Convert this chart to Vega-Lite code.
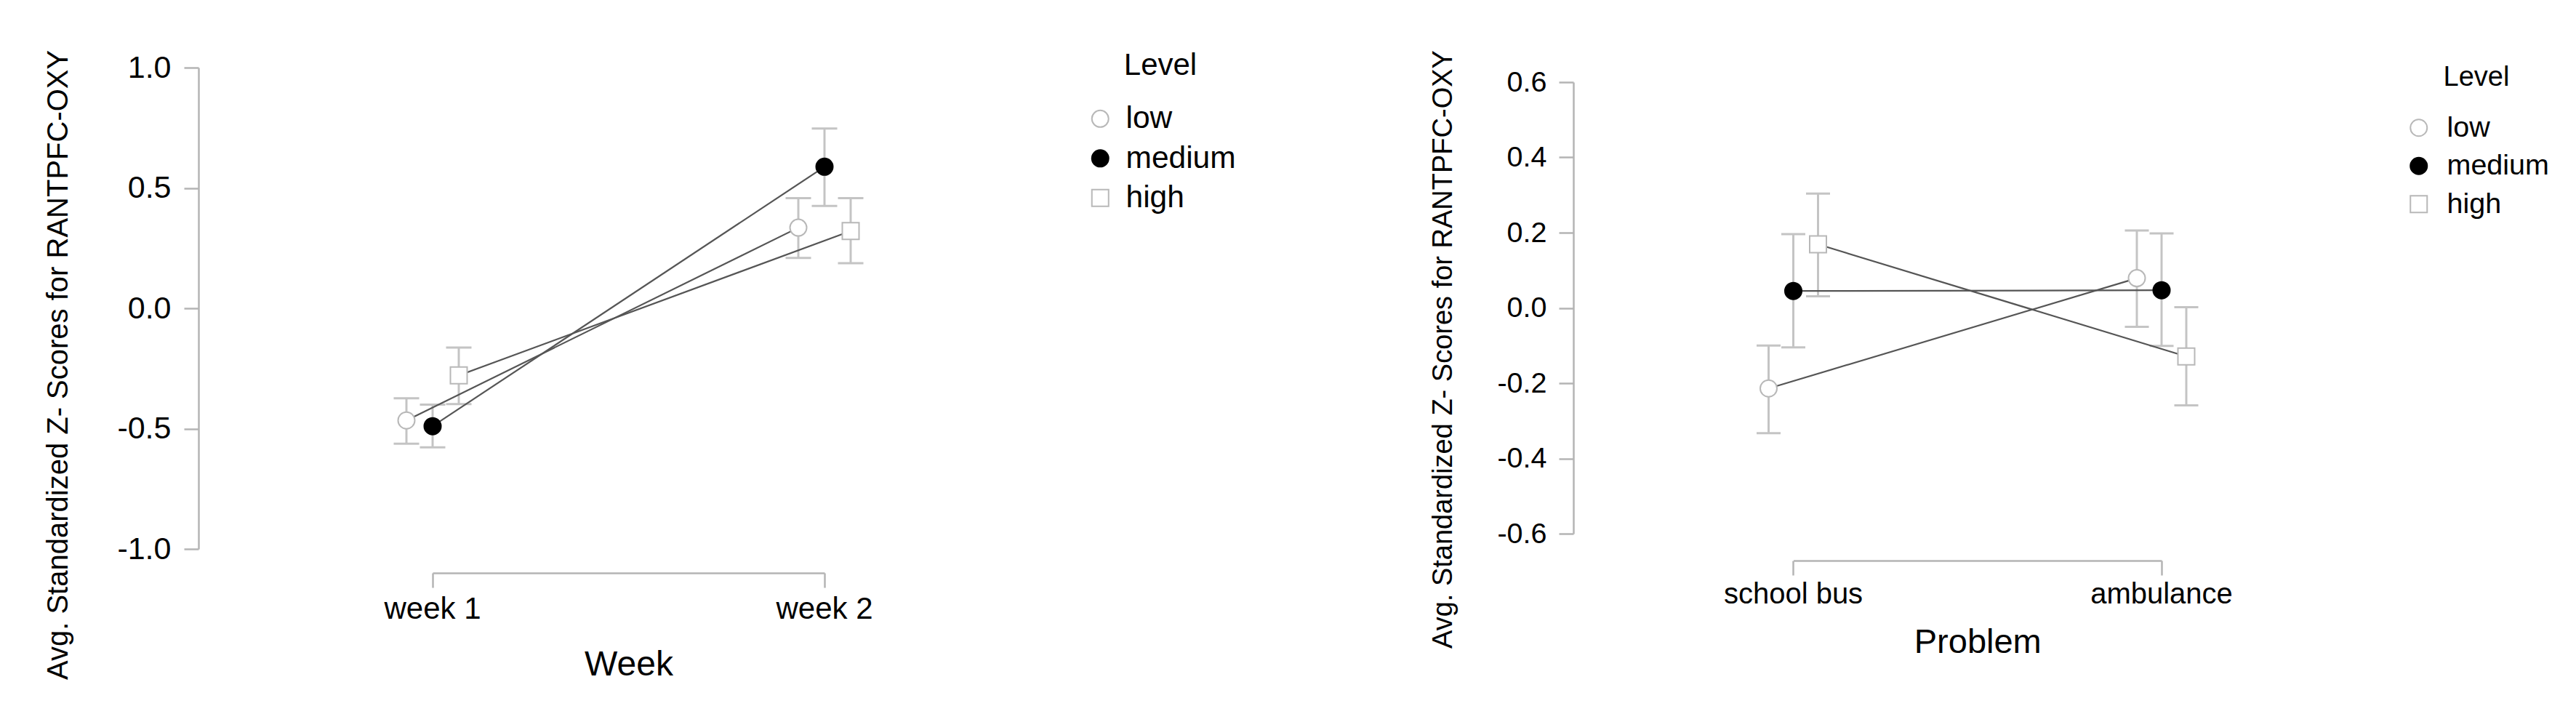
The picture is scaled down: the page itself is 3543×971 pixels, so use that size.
{
  "$schema": "https://vega.github.io/schema/vega-lite/v6.json",
  "autosize": {"type": "pad"},
  "padding": {"left": 59, "top": 68, "right": 0, "bottom": 0},
  "background": "white",
  "config": {
    "view": {"stroke": null},
    "font": "Liberation Sans",
    "axis": {
      "grid": false,
      "labelFont": "Liberation Sans",
      "titleFont": "Liberation Sans",
      "labelColor": "#000000",
      "titleColor": "#000000",
      "titleFontWeight": "normal",
      "domainColor": "#b4b4b4",
      "domainWidth": 2.5,
      "tickColor": "#b4b4b4",
      "tickWidth": 2.5,
      "tickSize": 20,
      "labelLimit": 0
    },
    "legend": {
      "labelFont": "Liberation Sans",
      "titleFont": "Liberation Sans",
      "labelColor": "#000000",
      "titleColor": "#000000",
      "titleFontWeight": "normal"
    }
  },
  "spacing": 0,
  "bounds": "flush",
  "resolve": {
    "scale": {"x": "independent", "y": "independent", "xOffset": "independent", "shape": "independent", "fill": "independent", "stroke": "independent"},
    "legend": {"shape": "independent", "fill": "independent", "stroke": "independent"}
  },
  "hconcat": [
    {
      "width": 1891,
      "height": 662,
      "data": {"values": [
        {"Week": "week 1", "Level": "low", "mean": -0.466, "lo": -0.563, "hi": -0.374},
        {"Week": "week 1", "Level": "medium", "mean": -0.490, "lo": -0.578, "hi": -0.400},
        {"Week": "week 1", "Level": "high", "mean": -0.279, "lo": -0.398, "hi": -0.163},
        {"Week": "week 2", "Level": "low", "mean": 0.335, "lo": 0.209, "hi": 0.458},
        {"Week": "week 2", "Level": "medium", "mean": 0.588, "lo": 0.425, "hi": 0.747},
        {"Week": "week 2", "Level": "high", "mean": 0.321, "lo": 0.187, "hi": 0.458}
      ]},
      "layer": [
        {
          "mark": {"type": "rule", "color": "#c4c4c4", "strokeWidth": 3, "opacity": 1},
          "encoding": {
            "x": {"field": "Week", "type": "nominal",
                  "scale": {"type": "band", "domain": ["week 1", "week 2"], "range": [322, 861], "paddingInner": 1, "paddingOuter": 0},
                  "axis": {"title": "Week", "titleFontSize": 48, "labelFontSize": 42, "labelAngle": 0, "labelLimit": 0, "offset": 33, "labelPadding": 9, "titlePadding": 32}},
            "xOffset": {"field": "Level", "type": "nominal", "scale": {"type": "point", "domain": ["low", "medium", "high"], "range": [-36, 36], "padding": 0}},
            "y": {"field": "lo", "type": "quantitative",
                  "scale": {"domain": [-1, 1], "nice": false, "zero": false},
                  "axis": {"title": "Avg. Standardized Z- Scores for RANTPFC-OXY", "values": [-1, -0.5, 0, 0.5, 1],
                           "labelExpr": "replace(format(datum.value, '.1f'), '\u2212', '-')",
                           "labelFontSize": 43, "labelPadding": 18,
                           "titleFontSize": 40, "titleAngle": -90, "titleAlign": "right", "titleBaseline": "alphabetic",
                           "titleX": -181, "titleY": -24.7}},
            "y2": {"field": "hi"}
          }
        },
        {
          "mark": {"type": "tick", "color": "#c4c4c4", "thickness": 3, "size": 35, "opacity": 1},
          "encoding": {
            "x": {"field": "Week", "type": "nominal"},
            "xOffset": {"field": "Level", "type": "nominal"},
            "y": {"field": "lo", "type": "quantitative"}
          }
        },
        {
          "mark": {"type": "tick", "color": "#c4c4c4", "thickness": 3, "size": 35, "opacity": 1},
          "encoding": {
            "x": {"field": "Week", "type": "nominal"},
            "xOffset": {"field": "Level", "type": "nominal"},
            "y": {"field": "hi", "type": "quantitative"}
          }
        },
        {
          "mark": {"type": "line", "color": "#555555", "strokeWidth": 2.2},
          "encoding": {
            "x": {"field": "Week", "type": "nominal"},
            "xOffset": {"field": "Level", "type": "nominal"},
            "y": {"field": "mean", "type": "quantitative"},
            "detail": {"field": "Level", "type": "nominal"}
          }
        },
        {
          "mark": {"type": "point", "filled": true, "opacity": 1, "size": 529, "strokeWidth": 2},
          "encoding": {
            "x": {"field": "Week", "type": "nominal"},
            "xOffset": {"field": "Level", "type": "nominal"},
            "y": {"field": "mean", "type": "quantitative"},
            "shape": {"field": "Level", "type": "nominal",
                      "scale": {"domain": ["low", "medium", "high"], "range": ["circle", "circle", "square"]},
                      "legend": {"title": "Level", "orient": "none", "legendX": 1219, "legendY": -22.9, "padding": 0,
                                 "titleFontSize": 42, "labelFontSize": 42.5, "titleAnchor": "middle", "titlePadding": 30,
                                 "rowPadding": 11.5, "labelOffset": 14, "symbolSize": 529, "symbolStrokeWidth": 2}},
            "fill": {"field": "Level", "type": "nominal",
                     "scale": {"domain": ["low", "medium", "high"], "range": ["#ffffff", "#000000", "#ffffff"]},
                     "legend": {"title": "Level", "orient": "none", "legendX": 1219, "legendY": -22.9, "padding": 0,
                                "titleFontSize": 42, "labelFontSize": 42.5, "titleAnchor": "middle", "titlePadding": 30,
                                "rowPadding": 11.5, "labelOffset": 14, "symbolSize": 529, "symbolStrokeWidth": 2}},
            "stroke": {"field": "Level", "type": "nominal",
                       "scale": {"domain": ["low", "medium", "high"], "range": ["#b8b8b8", "#000000", "#b8b8b8"]},
                       "legend": {"title": "Level", "orient": "none", "legendX": 1219, "legendY": -22.9, "padding": 0,
                                  "titleFontSize": 42, "labelFontSize": 42.5, "titleAnchor": "middle", "titlePadding": 30,
                                  "rowPadding": 11.5, "labelOffset": 14, "symbolSize": 529, "symbolStrokeWidth": 2}}
          }
        }
      ]
    },
    {
      "width": 1300,
      "height": 641,
      "data": {"values": [
        {"Problem": "school bus", "Level": "low", "mean": -0.214, "lo": -0.333, "hi": -0.100},
        {"Problem": "school bus", "Level": "medium", "mean": 0.045, "lo": -0.105, "hi": 0.196},
        {"Problem": "school bus", "Level": "high", "mean": 0.169, "lo": 0.031, "hi": 0.304},
        {"Problem": "ambulance", "Level": "low", "mean": 0.079, "lo": -0.050, "hi": 0.206},
        {"Problem": "ambulance", "Level": "medium", "mean": 0.047, "lo": -0.101, "hi": 0.198},
        {"Problem": "ambulance", "Level": "high", "mean": -0.129, "lo": -0.259, "hi": 0.002}
      ]},
      "layer": [
        {
          "mark": {"type": "rule", "color": "#c4c4c4", "strokeWidth": 3, "opacity": 1},
          "encoding": {
            "x": {"field": "Problem", "type": "nominal",
                  "scale": {"type": "band", "domain": ["school bus", "ambulance"], "range": [302.5, 809], "paddingInner": 1, "paddingOuter": 0},
                  "axis": {"title": "Problem", "titleFontSize": 47, "labelFontSize": 40, "labelAngle": 0, "labelLimit": 0, "offset": 37, "labelPadding": 6, "titlePadding": 23}},
            "xOffset": {"field": "Level", "type": "nominal", "scale": {"type": "point", "domain": ["low", "medium", "high"], "range": [-34, 34], "padding": 0}},
            "y": {"field": "lo", "type": "quantitative",
                  "scale": {"domain": [-0.6, 0.6], "nice": false, "zero": false, "range": [641, 20]},
                  "axis": {"title": "Avg. Standardized Z- Scores for RANTPFC-OXY", "values": [-0.6, -0.4, -0.2, 0, 0.2, 0.4, 0.6],
                           "labelExpr": "replace(format(datum.value, '.1f'), '\u2212', '-')",
                           "labelFontSize": 39.5, "labelPadding": 17,
                           "titleFontSize": 38, "titleAngle": -90, "titleAlign": "right", "titleBaseline": "alphabetic",
                           "titleX": -168, "titleY": -24.4}},
            "y2": {"field": "hi"}
          }
        },
        {
          "mark": {"type": "tick", "color": "#c4c4c4", "thickness": 3, "size": 33, "opacity": 1},
          "encoding": {
            "x": {"field": "Problem", "type": "nominal"},
            "xOffset": {"field": "Level", "type": "nominal"},
            "y": {"field": "lo", "type": "quantitative"}
          }
        },
        {
          "mark": {"type": "tick", "color": "#c4c4c4", "thickness": 3, "size": 33, "opacity": 1},
          "encoding": {
            "x": {"field": "Problem", "type": "nominal"},
            "xOffset": {"field": "Level", "type": "nominal"},
            "y": {"field": "hi", "type": "quantitative"}
          }
        },
        {
          "mark": {"type": "line", "color": "#555555", "strokeWidth": 2.2},
          "encoding": {
            "x": {"field": "Problem", "type": "nominal"},
            "xOffset": {"field": "Level", "type": "nominal"},
            "y": {"field": "mean", "type": "quantitative"},
            "detail": {"field": "Level", "type": "nominal"}
          }
        },
        {
          "mark": {"type": "point", "filled": true, "opacity": 1, "size": 529, "strokeWidth": 2},
          "encoding": {
            "x": {"field": "Problem", "type": "nominal"},
            "xOffset": {"field": "Level", "type": "nominal"},
            "y": {"field": "mean", "type": "quantitative"},
            "shape": {"field": "Level", "type": "nominal",
                      "scale": {"domain": ["low", "medium", "high"], "range": ["circle", "circle", "square"]},
                      "legend": {"title": "Level", "orient": "none", "legendX": 1143, "legendY": -5, "padding": 0,
                                 "titleFontSize": 38, "labelFontSize": 39.5, "titleAnchor": "middle", "titlePadding": 30,
                                 "rowPadding": 11.5, "labelOffset": 19, "symbolSize": 529, "symbolStrokeWidth": 2}},
            "fill": {"field": "Level", "type": "nominal",
                     "scale": {"domain": ["low", "medium", "high"], "range": ["#ffffff", "#000000", "#ffffff"]},
                     "legend": {"title": "Level", "orient": "none", "legendX": 1143, "legendY": -5, "padding": 0,
                                "titleFontSize": 38, "labelFontSize": 39.5, "titleAnchor": "middle", "titlePadding": 30,
                                "rowPadding": 11.5, "labelOffset": 19, "symbolSize": 529, "symbolStrokeWidth": 2}},
            "stroke": {"field": "Level", "type": "nominal",
                       "scale": {"domain": ["low", "medium", "high"], "range": ["#b8b8b8", "#000000", "#b8b8b8"]},
                       "legend": {"title": "Level", "orient": "none", "legendX": 1143, "legendY": -5, "padding": 0,
                                  "titleFontSize": 38, "labelFontSize": 39.5, "titleAnchor": "middle", "titlePadding": 30,
                                  "rowPadding": 11.5, "labelOffset": 19, "symbolSize": 529, "symbolStrokeWidth": 2}}
          }
        }
      ]
    }
  ]
}
